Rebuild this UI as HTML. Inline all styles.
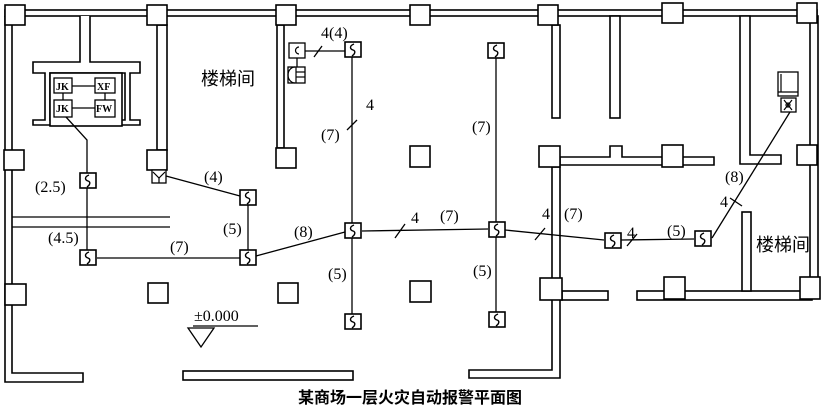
<!DOCTYPE html>
<html><head><meta charset="utf-8"><style>
html,body{margin:0;padding:0;background:#fff;}
svg{display:block;}
text{font-family:"Liberation Serif","Noto Serif CJK SC",serif;font-size:16px;fill:#000;}
.cn{font-family:"Liberation Sans","Noto Sans CJK SC",sans-serif;font-size:18px;}
.t{font-family:"Liberation Sans","Noto Sans CJK SC",sans-serif;font-size:16px;font-weight:bold;}
.b{font-family:"Liberation Serif",serif;font-size:10px;font-weight:bold;}
</style></head><body>
<svg width="821" height="409" viewBox="0 0 821 409" xmlns="http://www.w3.org/2000/svg">
<defs>
<g id="det"><rect x="0" y="0" width="16" height="15" fill="#fff" stroke="#000" stroke-width="1.6"/><path d="M9,2 C4,4 5,7 8,8 C11,9 10,12 7,14" fill="none" stroke="#000" stroke-width="1.4"/></g>
</defs>
<g fill="#fff" stroke="#000" stroke-width="1.6">
<rect x="5" y="10" width="812" height="6"/>
<path d="M5,16 V382 H83 V373 H12 V16"/>
<rect x="810" y="16" width="8" height="265"/>
<rect x="183" y="371" width="170" height="9"/>
<path d="M552,167 V370 H469 V378 H560 V167 Z"/>
<rect x="562" y="291" width="46" height="9"/>
<rect x="552" y="25" width="8" height="93"/>
<rect x="610" y="16" width="10" height="102"/>
<path d="M740,16 V164 H781 V155 H750 V16 Z"/>
<path d="M560,157 H610 V146 H622 V157 H714 V165 H560 Z"/>
<rect x="637" y="291" width="175" height="9"/>
<rect x="742" y="212" width="9" height="79"/>
<rect x="157" y="25" width="10" height="125"/>
<rect x="277" y="25" width="7" height="123"/>
<path d="M80,16 V62 H33 V73 H45 V120 H33 V125 H65 V120 H50 V73 H125 V120 H107 V125 H140 V120 H130 V73 H140 V62 H90 V16"/>
<rect x="50" y="73" width="72" height="53"/>
<rect x="5" y="5" width="20" height="20"/>
<rect x="147" y="5" width="20" height="20"/>
<rect x="276" y="5" width="20" height="20"/>
<rect x="410" y="5" width="20" height="20"/>
<rect x="538" y="5" width="20" height="20"/>
<rect x="662" y="3" width="21" height="20"/>
<rect x="797" y="3" width="20" height="20"/>
<rect x="4" y="150" width="20" height="20"/>
<rect x="5" y="284" width="21" height="21"/>
<rect x="147" y="150" width="20" height="20"/>
<rect x="276" y="148" width="20" height="20"/>
<rect x="410" y="146" width="20" height="21"/>
<rect x="539" y="146" width="21" height="21"/>
<rect x="662" y="145" width="21" height="22"/>
<rect x="797" y="145" width="20" height="20"/>
<rect x="148" y="283" width="20" height="20"/>
<rect x="278" y="283" width="20" height="20"/>
<rect x="410" y="281" width="21" height="21"/>
<rect x="540" y="278" width="22" height="22"/>
<rect x="664" y="277" width="21" height="22"/>
<rect x="800" y="277" width="20" height="22"/>
</g>
<g stroke="#000" stroke-width="1.3" fill="none">
<line x1="12" y1="217" x2="170" y2="217"/>
<line x1="12" y1="227" x2="170" y2="227"/>
<line x1="72" y1="86" x2="95" y2="86"/>
<line x1="72" y1="108" x2="95" y2="108"/>
<line x1="63" y1="93" x2="63" y2="100"/>
<line x1="105" y1="93" x2="105" y2="100"/>
<polyline points="66,117 87,140 87,250"/>
<line x1="97" y1="258" x2="240" y2="258"/>
<line x1="248" y1="205" x2="248" y2="250"/>
<line x1="166" y1="176" x2="240" y2="196"/>
<line x1="256" y1="256" x2="345" y2="232"/>
<line x1="305" y1="51" x2="345" y2="51"/>
<line x1="352" y1="57" x2="352" y2="223"/>
<line x1="352" y1="238" x2="352" y2="315"/>
<line x1="362" y1="231" x2="488" y2="229"/>
<line x1="496" y1="58" x2="496" y2="222"/>
<line x1="496" y1="237" x2="496" y2="313"/>
<line x1="505" y1="230" x2="604" y2="240"/>
<line x1="621" y1="240" x2="694" y2="239"/>
<line x1="712" y1="238" x2="790" y2="112"/>
<line x1="297" y1="58" x2="297" y2="67"/>
<line x1="314" y1="57" x2="322" y2="46"/>
<line x1="347" y1="130" x2="357" y2="120"/>
<line x1="395" y1="238" x2="405" y2="224"/>
<line x1="535" y1="240" x2="545" y2="228"/>
<line x1="627" y1="246" x2="637" y2="234"/>
<line x1="730" y1="198" x2="742" y2="206"/>
<line x1="193" y1="326" x2="258" y2="326"/>
<polygon points="188,328 214,328 201,347"/>
</g>
<g fill="#fff" stroke="#000" stroke-width="1.3">
<rect x="54" y="78" width="18" height="15"/>
<rect x="95" y="78" width="20" height="15"/>
<rect x="54" y="100" width="18" height="17"/>
<rect x="95" y="100" width="20" height="17"/>
<rect x="289" y="43" width="16" height="15"/>
<rect x="288" y="67" width="17" height="16"/>
<rect x="152" y="170" width="14" height="13"/>
<rect x="778" y="72" width="20" height="24"/>
<rect x="781" y="98" width="15" height="14"/>
</g>
<g fill="none" stroke="#000" stroke-width="1.2">
<path d="M299,47 A3,3 0 1 0 299,54"/>
<path d="M295,67 A7,8 0 0 0 295,83"/>
<line x1="296" y1="72" x2="305" y2="72"/><line x1="296" y1="77" x2="305" y2="77"/><line x1="296" y1="67" x2="296" y2="83"/>
<polyline points="153,172 159,178 165,172"/><line x1="159" y1="178" x2="159" y2="183"/>
<line x1="781" y1="74" x2="781" y2="92"/><line x1="778" y1="92" x2="798" y2="92"/>
<path d="M784,100 L792,110 M792,100 L784,110"/><circle cx="788" cy="105" r="2"/>
</g>
<text class="b" x="56" y="90">JK</text>
<text class="b" x="97" y="90">XF</text>
<text class="b" x="56" y="112">JK</text>
<text class="b" x="96" y="112">FW</text>
<use href="#det" x="80" y="173"/>
<use href="#det" x="80" y="250"/>
<use href="#det" x="240" y="250"/>
<use href="#det" x="240" y="190"/>
<use href="#det" x="345" y="223"/>
<use href="#det" x="345" y="314"/>
<use href="#det" x="345" y="42"/>
<use href="#det" x="488" y="43"/>
<use href="#det" x="489" y="222"/>
<use href="#det" x="489" y="312"/>
<use href="#det" x="605" y="233"/>
<use href="#det" x="695" y="231"/>
<text class="cn" x="201" y="85">楼梯间</text>
<text class="cn" x="756" y="251">楼梯间</text>
<text x="321" y="38">4(4)</text>
<text x="366" y="110">4</text>
<text x="321" y="140">(7)</text>
<text x="472" y="132">(7)</text>
<text x="35" y="192">(2.5)</text>
<text x="204" y="182">(4)</text>
<text x="223" y="234">(5)</text>
<text x="48" y="243">(4.5)</text>
<text x="170" y="252">(7)</text>
<text x="294" y="237">(8)</text>
<text x="328" y="279">(5)</text>
<text x="411" y="223">4</text>
<text x="440" y="221">(7)</text>
<text x="473" y="276">(5)</text>
<text x="542" y="219">4</text>
<text x="564" y="219">(7)</text>
<text x="627" y="238">4</text>
<text x="667" y="236">(5)</text>
<text x="725" y="182">(8)</text>
<text x="720" y="207">4</text>
<text x="194" y="321">±0.000</text>
<text class="t" x="410" y="403" text-anchor="middle">某商场一层火灾自动报警平面图</text>
</svg>
</body></html>
